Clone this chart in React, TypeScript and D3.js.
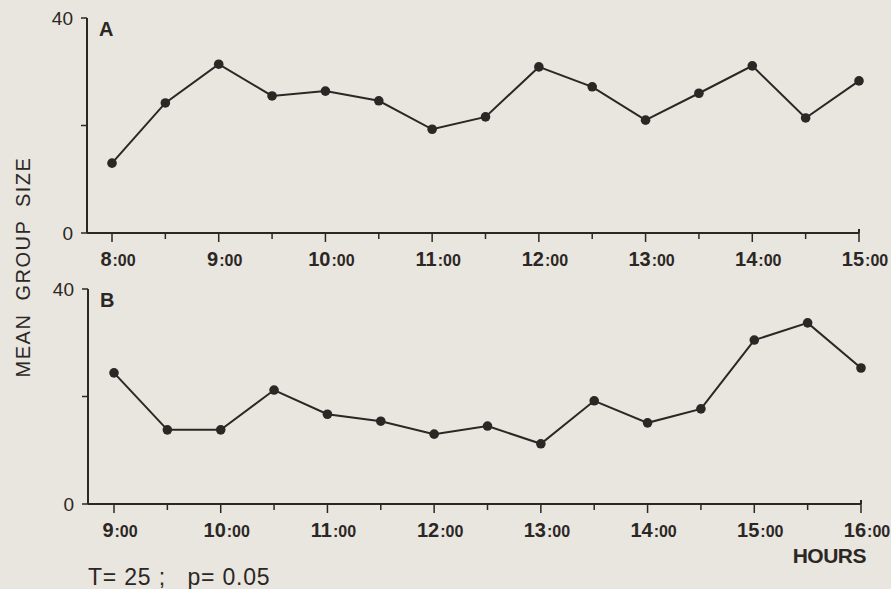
import React from "react";
import * as d3 from "d3";

const width = 891;
const height = 589;

// panel A: 8:00 - 15:00 every half hour
const hoursA = [8, 8.5, 9, 9.5, 10, 10.5, 11, 11.5, 12, 12.5, 13, 13.5, 14, 14.5, 15];
const sizeA = [13.0, 24.2, 31.4, 25.5, 26.4, 24.6, 19.3, 21.6, 30.9, 27.2, 21.0, 26.0, 31.1, 21.4, 28.3];
const labelsA = ["8:00", "9:00", "10:00", "11:00", "12:00", "13:00", "14:00", "15:00"];

// panel B: 9:00 - 16:00 every half hour
const hoursB = [9, 9.5, 10, 10.5, 11, 11.5, 12, 12.5, 13, 13.5, 14, 14.5, 15, 15.5, 16];
const sizeB = [24.4, 13.8, 13.8, 21.2, 16.7, 15.4, 13.0, 14.5, 11.2, 19.2, 15.1, 17.7, 30.5, 33.7, 25.3];
const labelsB = ["9:00", "10:00", "11:00", "12:00", "13:00", "14:00", "15:00", "16:00"];

const yTicks = [0, 20, 40];
const yLabels = ["0", "", "40"];

const ink = "#2b2725";
const font = "'Liberation Sans', Arial, sans-serif";

type PanelProps = {
  letter: string;
  hours: number[];
  values: number[];
  labels: string[];
  x0: number;
  x1: number;
  top: number;
  bottom: number;
  axisX: number;
};

function Panel({ letter, hours, values, labels, x0, x1, top, bottom, axisX }: PanelProps) {
  const start = hours[0];
  const end = hours[hours.length - 1];
  const x = d3.scaleLinear().domain([start, end]).range([x0, x1]);
  const y = d3.scaleLinear().domain([0, 40]).range([bottom, top]);
  const line = d3
    .line<number>()
    .x((d, i) => x(hours[i]))
    .y(d => y(d));
  const ticks = d3.range(start, end + 0.01, 0.5);

  return (
    <g>
      {/* y axis */}
      <line x1={axisX} x2={axisX} y1={y(40)} y2={y(0)} stroke={ink} strokeWidth={2} />
      {yTicks.map((t, i) => (
        <g key={t}>
          <line x1={axisX - 6} x2={axisX} y1={y(t)} y2={y(t)} stroke={ink} strokeWidth={1.5} />
          <text
            x={axisX - 14}
            y={y(t)}
            dy="0.36em"
            textAnchor="end"
            fontSize={19}
            fill={ink}
            fontFamily={font}
          >
            {yLabels[i]}
          </text>
        </g>
      ))}
      {/* x axis */}
      <line x1={axisX} x2={x(end)} y1={y(0)} y2={y(0)} stroke={ink} strokeWidth={2} />
      <line x1={x(end)} x2={x(end)} y1={y(0) - 4} y2={y(0)} stroke={ink} strokeWidth={2} />
      {ticks.map(t => (
        <line
          key={t}
          x1={x(t)}
          x2={x(t)}
          y1={y(0)}
          y2={y(0) + (t % 1 === 0 ? 9 : 6)}
          stroke={ink}
          strokeWidth={1.5}
        />
      ))}
      {labels.map((l, i) => {
        const [h, m] = l.split(":");
        return (
          <text
            key={l}
            x={x(start + i) + 6}
            y={y(0) + 33}
            textAnchor="middle"
            fontWeight="bold"
            fill={ink}
            fontFamily={font}
          >
            <tspan fontSize={20}>{h}</tspan>
            <tspan fontSize={16} dx={1}>{":" + m}</tspan>
          </text>
        );
      })}
      <text x={axisX + 12} y={top + 18} fontSize={20} fontWeight="bold" fill={ink} fontFamily={font}>
        {letter}
      </text>
      <path d={line(values) || ""} fill="none" stroke={ink} strokeWidth={2} />
      {values.map((v, i) => (
        <circle key={i} cx={x(hours[i])} cy={y(v)} r={4.8} fill={ink} />
      ))}
    </g>
  );
}

export default function App() {
  return (
    <div style={{ position: "fixed", left: 0, top: 0 }}>
      <svg width={width} height={height} style={{ display: "block", background: "#e9e5df" }}>
        <Panel
          letter="A"
          hours={hoursA}
          values={sizeA}
          labels={labelsA}
          x0={112}
          x1={859}
          top={18}
          bottom={233}
          axisX={87}
        />
        <Panel
          letter="B"
          hours={hoursB}
          values={sizeB}
          labels={labelsB}
          x0={114}
          x1={861}
          top={289}
          bottom={504}
          axisX={88}
        />
        <text
          transform="translate(30,267) rotate(-90)"
          textAnchor="middle"
          fontSize={20}
          letterSpacing={1.5}
          wordSpacing={6}
          fill={ink}
          fontFamily={font}
        >
          MEAN GROUP SIZE
        </text>
        <text x={866} y={563} textAnchor="end" fontSize={21} fontWeight="bold" letterSpacing={-0.5} fill={ink} fontFamily={font}>
          HOURS
        </text>
        <text x={88} y={585} fontSize={23} letterSpacing={0.8} fill={ink} fontFamily={font} style={{ whiteSpace: "pre" }}>
          {"T= 25 ;   p= 0.05"}
        </text>
      </svg>
    </div>
  );
}
